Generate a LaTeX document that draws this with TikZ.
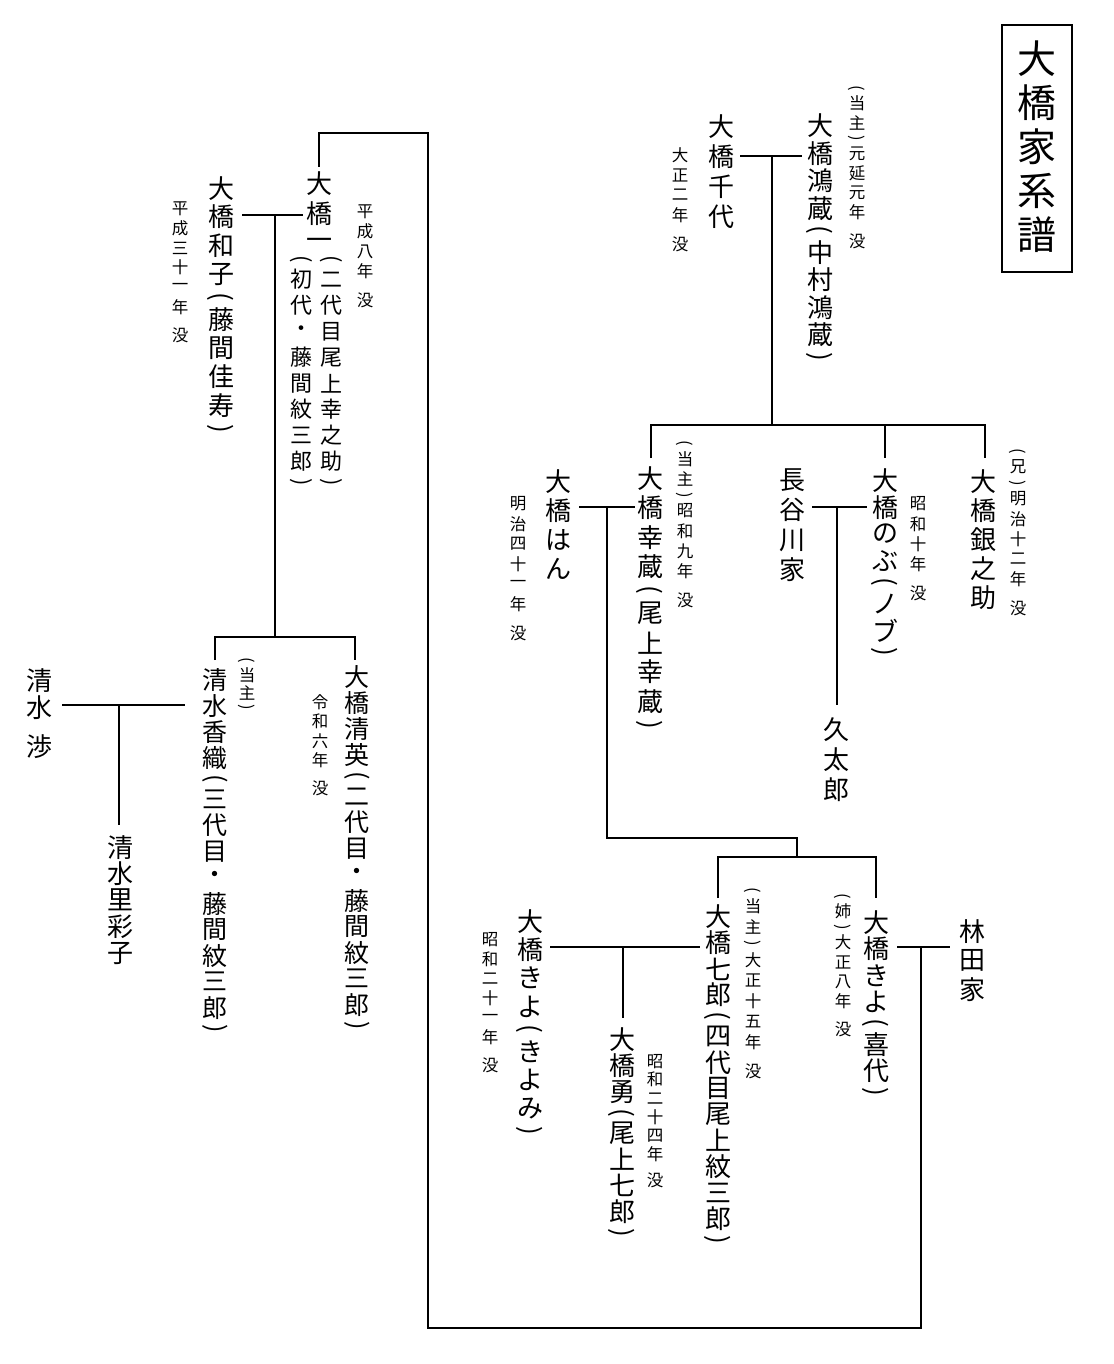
\documentclass[tikz,border=0pt]{standalone}
\usepackage{fontspec}
\usepackage{graphicx}
\setmainfont{Noto Sans CJK JP}

\ExplSyntaxOn
\dim_new:N \l_vt_pitch_dim
\cs_new:Npn \vt_cell:nn #1#2
  {
    \hbox_to_wd:nn {1.1em} { \hss \vbox_to_ht:nn {#1} { \vss \hbox:n {#2} \vss } \hss }
  }
\NewDocumentCommand \vt { m m m }
  {
    \group_begin:
    \fontsize{#1}{#1}\selectfont
    \dim_set:Nn \l_vt_pitch_dim {#2}
    \vbox:n
      {
        \offinterlineskip
        \tl_map_inline:nn {#3}
          {
            \str_case:nnF {##1}
              {
                {(} { \vt_cell:nn {0.6\l_vt_pitch_dim} { \rotatebox{-90}{(} } }
                {)} { \vt_cell:nn {0.6\l_vt_pitch_dim} { \rotatebox{-90}{)} } }
                {_} { \skip_vertical:n {0.45\l_vt_pitch_dim} }
              }
              { \vt_cell:nn {\l_vt_pitch_dim} {##1} }
          }
      }
    \group_end:
  }
\ExplSyntaxOff

\newcommand\bigsz{26}
\newcommand\smsz{16.5}

\begin{document}
\begin{tikzpicture}[x=1pt,y=-1pt,
  vtn/.style={inner sep=0pt, outer sep=0pt, anchor=north},
  ln/.style={line width=1.5pt, line cap=butt, line join=miter, draw=black}]
\useasboundingbox (0,0) rectangle (1113,1364);
\fill[white] (0,0) rectangle (1113,1364);

% title
\node[draw, line width=1.5pt, minimum width=70pt, minimum height=247pt, inner sep=0pt] (titlebox) at (1037,148.5) {};
\node[vtn] (title) at (1037,37) {\vt{39}{44pt}{大橋家系譜}};

% right-top generation
\node[vtn] (chiyo) at (721,112) {\vt{\bigsz}{30pt}{大橋千代}};
\node[vtn] (chiyoN) at (680,145) {\vt{\smsz}{20pt}{大正二年_没}};
\node[vtn] (kozo) at (820,112) {\vt{\bigsz}{27.5pt}{大橋鴻蔵(中村鴻蔵)}};
\node[vtn] (kozoN) at (857,82) {\vt{\smsz}{19.5pt}{(当主)元延元年_没}};

% children of kozo
\node[vtn] (kozo3) at (650,464) {\vt{\bigsz}{29.3pt}{大橋幸蔵(尾上幸蔵)}};
\node[vtn] (kozo3N) at (685,437) {\vt{\smsz}{20pt}{(当主)昭和九年_没}};
\node[vtn] (han) at (558,467) {\vt{\bigsz}{29pt}{大橋はん}};
\node[vtn] (hanN) at (518,494) {\vt{\smsz}{20pt}{明治四十一年_没}};
\node[vtn] (hase) at (792,465) {\vt{\bigsz}{30pt}{長谷川家}};
\node[vtn] (nobu) at (885,467) {\vt{\bigsz}{26.8pt}{大橋のぶ(ノブ)}};
\node[vtn] (nobuN) at (918,494) {\vt{\smsz}{20pt}{昭和十年_没}};
\node[vtn] (kyu) at (836,715) {\vt{\bigsz}{30pt}{久太郎}};
\node[vtn] (gin) at (983,467) {\vt{\bigsz}{29pt}{大橋銀之助}};
\node[vtn] (ginN) at (1018,445) {\vt{\smsz}{20pt}{(兄)明治十二年_没}};

% grandchildren
\node[vtn] (kiyoA) at (876,909) {\vt{\bigsz}{26.5pt}{大橋きよ(喜代)}};
\node[vtn] (kiyoAN) at (843,890) {\vt{\smsz}{19.5pt}{(姉)大正八年_没}};
\node[vtn] (hayashi) at (972,917) {\vt{\bigsz}{29pt}{林田家}};
\node[vtn] (shichi) at (718,904) {\vt{\bigsz}{26pt}{大橋七郎(四代目尾上紋三郎)}};
\node[vtn] (shichiN) at (753,884) {\vt{\smsz}{20.5pt}{(当主)大正十五年_没}};
\node[vtn] (kiyoB) at (530,907) {\vt{\bigsz}{28.4pt}{大橋きよ(きよみ)}};
\node[vtn] (kiyoBN) at (490,930) {\vt{\smsz}{19.5pt}{昭和二十一年_没}};
\node[vtn] (isamu) at (622,1027) {\vt{\bigsz}{26pt}{大橋勇(尾上七郎)}};
\node[vtn] (isamuN) at (655,1052) {\vt{\smsz}{18.5pt}{昭和二十四年_没}};

% left side
\node[vtn] (ichi) at (319,169) {\vt{\bigsz}{30pt}{大橋一}};
\node[vtn] (ichiR) at (331,251) {\vt{22}{26pt}{(二代目尾上幸之助)}};
\node[vtn] (ichiL) at (301,251) {\vt{22}{26pt}{(初代・藤間紋三郎)}};
\node[vtn] (ichiN) at (365,202) {\vt{\smsz}{19.8pt}{平成八年_没}};
\node[vtn] (kazuko) at (221,174) {\vt{\bigsz}{28.6pt}{大橋和子(藤間佳寿)}};
\node[vtn] (kazukoN) at (180,199) {\vt{\smsz}{19.6pt}{平成三十一年_没}};

\node[vtn] (kaori) at (215,667) {\vt{25}{26pt}{清水香織(三代目・藤間紋三郎)}};
\node[vtn] (kaoriN) at (247,655) {\vt{\smsz}{18pt}{(当主)}};
\node[vtn] (kiyohide) at (357,664) {\vt{25}{26pt}{大橋清英(二代目・藤間紋三郎)}};
\node[vtn] (kiyohideN) at (320,692) {\vt{\smsz}{19.5pt}{令和六年_没}};
\node[vtn] (wataru) at (40,667) {\vt{\bigsz}{27pt}{清水_渉}};
\node[vtn] (risako) at (120,834) {\vt{\bigsz}{26.5pt}{清水里彩子}};

% junction coordinates
\coordinate (m1a) at (740,156); \coordinate (m1b) at (802,156); \coordinate (m1) at (772,156);
\coordinate (s1) at (772,425); \coordinate (s1a) at (651,425); \coordinate (s1b) at (885,425); \coordinate (s1c) at (985,425);
\coordinate (d1a) at (651,458); \coordinate (d1b) at (885,458); \coordinate (d1c) at (985,458);

\coordinate (m2a) at (579,507); \coordinate (m2b) at (635,507); \coordinate (m2) at (607,507);
\coordinate (k2a) at (607,838); \coordinate (k2b) at (797,838); \coordinate (s2) at (797,857);
\coordinate (s2a) at (718,857); \coordinate (s2b) at (876,857);
\coordinate (d2a) at (718,898); \coordinate (d2b) at (876,898);

\coordinate (m3a) at (812,507); \coordinate (m3b) at (867,507); \coordinate (m3) at (837,507);
\coordinate (d3) at (837,705);

\coordinate (m4a) at (550,947); \coordinate (m4b) at (700,947); \coordinate (m4) at (623,947);
\coordinate (d4) at (623,1018);

\coordinate (m5a) at (897,947); \coordinate (m5b) at (950,947); \coordinate (m5) at (921,947);
\coordinate (l1) at (921,1328); \coordinate (l2) at (428,1328); \coordinate (l3) at (428,133);
\coordinate (l4) at (319,133); \coordinate (l5) at (319,167);

\coordinate (m6a) at (242,215); \coordinate (m6b) at (303,215); \coordinate (m6) at (275,215);
\coordinate (s6) at (275,637); \coordinate (s6a) at (215,637); \coordinate (s6b) at (355,637);
\coordinate (d6a) at (215,660); \coordinate (d6b) at (355,660);

\coordinate (m7a) at (62,705); \coordinate (m7b) at (185,705); \coordinate (m7) at (119,705);
\coordinate (d7) at (119,825);

% connectors
\draw[ln] (m1a) -- (m1b);
\draw[ln] (m1) -- (s1);
\draw[ln] (d1a) -- (s1a) -- (s1c) -- (d1c);
\draw[ln] (s1b) -- (d1b);

\draw[ln] (m2a) -- (m2b);
\draw[ln] (m2) -- (k2a) -- (k2b) -- (s2);
\draw[ln] (d2a) -- (s2a) -- (s2b) -- (d2b);

\draw[ln] (m3a) -- (m3b);
\draw[ln] (m3) -- (d3);

\draw[ln] (m4a) -- (m4b);
\draw[ln] (m4) -- (d4);

\draw[ln] (m5a) -- (m5b);
\draw[ln] (m5) -- (l1) -- (l2) -- (l3) -- (l4) -- (l5);

\draw[ln] (m6a) -- (m6b);
\draw[ln] (m6) -- (s6);
\draw[ln] (d6a) -- (s6a) -- (s6b) -- (d6b);

\draw[ln] (m7a) -- (m7b);
\draw[ln] (m7) -- (d7);
\end{tikzpicture}
\end{document}
